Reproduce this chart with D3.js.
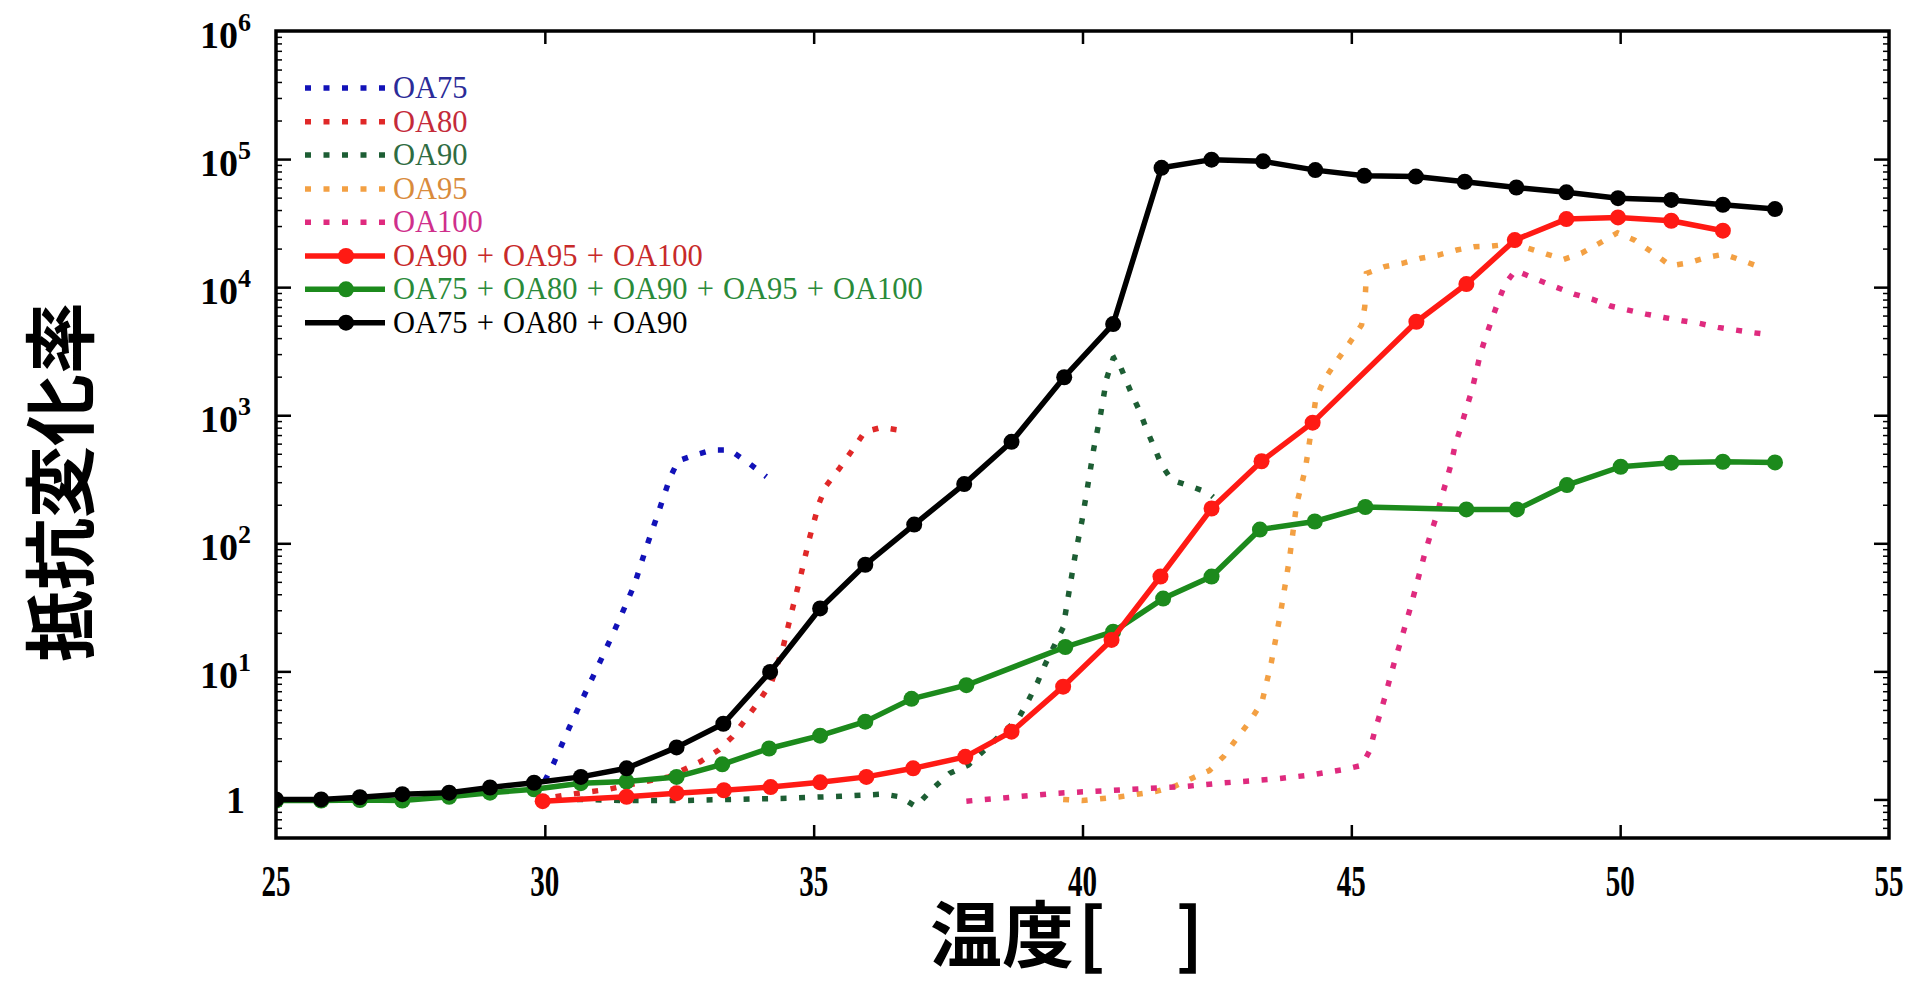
<!DOCTYPE html>
<html>
<head>
<meta charset="utf-8">
<script src="https://d3js.org/d3.v7.min.js"></script>
<style>
  body { margin: 0; background: #fff; }
  svg text { font-family: "Liberation Serif", "Times New Roman", serif; }
  .cjk { font-family: "Noto Sans CJK JP", sans-serif; font-weight: bold; }
</style>
</head>
<body>
<svg id="chart" width="1915" height="991"></svg>
<script>
// ---- data (temperature, resistance change ratio) ----
const xTicks = [25, 30, 35, 40, 45, 50, 55];
const yTicks = [1, 10, 100, 1000, 10000, 100000, 1000000];
const yTickLabels = ["1", "10|1", "10|2", "10|3", "10|4", "10|5", "10|6"];

const oa75X = [30.0, 30.16, 30.45, 30.76, 31.07, 31.38, 31.67, 31.88, 32.11, 32.33, 32.48, 32.79, 33.12, 33.44, 33.8, 34.12];
const oa75Y = [1.4, 1.9, 3.6, 6.9, 13, 25, 48, 91, 173, 327, 441, 489, 535, 535, 421, 331];

const oa80X = [30.2, 30.5, 31.18, 32.3, 32.89, 33.23, 33.49, 33.75, 33.99, 34.22, 34.43, 34.59, 34.76, 34.92, 35.10, 35.23, 35.48, 35.73, 35.95, 36.26, 36.59];
const oa80Y = [1.05, 1.1, 1.2, 1.5, 1.97, 2.43, 3.09, 4.3, 5.9, 8.3, 15.4, 29, 56, 109, 205, 280, 385, 542, 743, 803, 766];

const oa90X = [30.6, 31.5, 32.5, 33.5, 34.5, 35.5, 36.3, 36.6, 36.9, 37.2, 37.53, 37.88, 38.81, 39.0, 39.16, 39.3, 39.64, 39.75, 39.86, 39.99, 40.1, 40.21, 40.34, 40.45, 40.57, 40.63, 40.77, 40.91, 41.06, 41.19, 41.33, 41.47, 41.66, 42.0, 42.34, 42.43];
const oa90Y = [1.0, 0.98, 0.98, 1.0, 1.02, 1.06, 1.1, 1.05, 0.88, 1.2, 1.6, 1.86, 4.3, 6.0, 8.15, 11.2, 22, 42, 79, 150, 285, 551, 1035, 1940, 2780, 2860, 2060, 1480, 1084, 776, 567, 408, 312, 280, 248, 230];

const oa95X = [39.64, 40.0, 40.7, 41.35, 41.72, 42.03, 42.36, 42.63, 42.87, 43.13, 43.34, 43.51, 43.68, 43.85, 43.98, 44.14, 44.2, 44.34, 44.5, 44.73, 44.96, 45.19, 45.25, 45.28, 45.62, 45.95, 46.29, 46.62, 46.96, 47.28, 47.61, 47.95, 48.29, 48.63, 48.95, 49.28, 49.61, 49.95, 50.27, 50.62, 50.94, 51.28, 51.62, 51.93, 52.28, 52.61];
const oa95Y = [1.0, 0.98, 1.05, 1.15, 1.27, 1.46, 1.68, 2.18, 3.0, 4.17, 5.8, 11.6, 28, 76, 199, 373, 535, 1355, 1905, 2660, 3640, 5060, 7030, 12800, 14460, 15350, 16800, 17800, 19500, 20660, 20930, 21700, 20100, 18100, 16500, 18400, 22000, 26600, 23300, 18400, 14700, 15500, 17100, 18100, 16100, 14300];

const oa100X = [37.84, 39.55, 41.88, 42.56, 43.55, 44.23, 44.88, 45.2, 45.34, 45.43, 45.53, 45.63, 45.72, 45.81, 45.91, 46.01, 46.1, 46.19, 46.28, 46.37, 46.47, 46.58, 46.67, 46.76, 46.86, 46.93, 47.04, 47.14, 47.24, 47.32, 47.39, 47.49, 47.61, 47.73, 47.86, 48.05, 48.45, 48.79, 49.14, 49.49, 49.82, 50.15, 50.48, 50.81, 51.15, 51.48, 51.82, 52.15, 52.49, 52.82];
const oa100Y = [0.97, 1.12, 1.26, 1.34, 1.44, 1.55, 1.72, 1.85, 2.4, 3.35, 4.6, 6.4, 8.9, 12.2, 16.7, 23.4, 31.6, 43.7, 61, 84, 116, 161, 222, 300, 421, 585, 813, 1132, 1553, 2147, 2900, 3985, 5535, 7690, 10570, 13500, 11500, 10080, 8830, 8030, 7120, 6620, 6160, 5800, 5470, 5210, 4850, 4620, 4400, 4230];

const redX = [29.96, 31.52, 32.45, 33.33, 34.2, 35.12, 35.98, 36.85, 37.82, 38.68, 39.64, 40.54, 41.45, 42.4, 43.33, 44.28, 46.21, 47.14, 48.04, 49.0, 49.96, 50.95, 51.91];
const redY = [0.97, 1.05, 1.12, 1.18, 1.25, 1.36, 1.5, 1.75, 2.15, 3.38, 7.6, 17.6, 55, 187, 437, 875, 5370, 10570, 23300, 34000, 35000, 33000, 27600];

const greenX = [25.0, 25.84, 26.56, 27.35, 28.22, 28.98, 29.8, 30.67, 31.52, 32.45, 33.3, 34.17, 35.12, 35.96, 36.82, 37.84, 39.68, 40.57, 41.5, 42.4, 43.3, 44.32, 45.26, 47.14, 48.08, 49.01, 50.01, 50.95, 51.91, 52.88];
const greenY = [0.98, 0.98, 0.99, 0.98, 1.05, 1.13, 1.2, 1.34, 1.38, 1.5, 1.88, 2.5, 3.15, 4.05, 6.1, 7.8, 15.5, 20.4, 37, 55, 128, 148, 192, 184, 184, 285, 396, 426, 433, 428];

const blackX = [25.0, 25.84, 26.56, 27.35, 28.22, 28.98, 29.8, 30.67, 31.52, 32.45, 33.32, 34.19, 35.12, 35.96, 36.87, 37.8, 38.68, 39.66, 40.57, 41.47, 42.4, 43.36, 44.33, 45.24, 46.2, 47.11, 48.07, 49.0, 49.96, 50.95, 51.91, 52.88];
const blackY = [1.0, 1.0, 1.04, 1.1, 1.13, 1.24, 1.35, 1.5, 1.75, 2.55, 3.9, 9.9, 31, 68, 140, 290, 620, 1980, 5150, 85500, 99000, 96000, 82000, 74000, 73000, 66500, 60000, 55000, 49500, 48000, 44000, 40700];

const seriesNames = ["OA75", "OA80", "OA90", "OA95", "OA100",
  "OA90 + OA95 + OA100", "OA75 + OA80 + OA90 + OA95 + OA100", "OA75 + OA80 + OA90"];

// ---- layout ----
const plotL = 276, plotR = 1889, plotT = 31, plotB = 838;

const svg = d3.select("#chart");
const x = d3.scaleLinear().domain([25, 55]).range([plotL, plotR]);
const y = d3.scaleLog().domain([0.5, 1e6]).range([plotB, plotT]);

const series = [
  { name: seriesNames[0], xs: oa75X, ys: oa75Y, color: "#1212b8", text: "#2b2b98", dotted: true },
  { name: seriesNames[1], xs: oa80X, ys: oa80Y, color: "#e02828", text: "#c42a3a", dotted: true },
  { name: seriesNames[2], xs: oa90X, ys: oa90Y, color: "#1d5e34", text: "#2f6c42", dotted: true },
  { name: seriesNames[3], xs: oa95X, ys: oa95Y, color: "#f3a043", text: "#d98b3c", dotted: true },
  { name: seriesNames[4], xs: oa100X, ys: oa100Y, color: "#df2a7e", text: "#cf2f8c", dotted: true },
  { name: seriesNames[5], xs: redX, ys: redY, color: "#ff1a14", text: "#c82a2a", dotted: false },
  { name: seriesNames[6], xs: greenX, ys: greenY, color: "#1c8a1c", text: "#2a8a3a", dotted: false },
  { name: seriesNames[7], xs: blackX, ys: blackY, color: "#000000", text: "#000000", dotted: false }
];

svg.append("defs").append("clipPath").attr("id", "plotclip")
  .append("rect").attr("x", plotL).attr("y", plotT).attr("width", plotR - plotL).attr("height", plotB - plotT);

// ---- ticks (inward), drawn with d3 axes ----
const minor = [];
for (let e = -1; e <= 5; e++) for (let k = 2; k <= 9; k++) {
  const v = k * Math.pow(10, e);
  if (v > 0.5 && v < 1e6) minor.push(v);
}
function tidy(g) { g.select(".domain").remove(); g.selectAll("line").attr("stroke", "#000"); }

svg.append("g").attr("transform", `translate(0,${plotB})`)
  .call(d3.axisBottom(x).tickValues(xTicks.slice(1, -1)).tickSize(-13).tickFormat(""))
  .call(tidy).selectAll("line").attr("stroke-width", 2.5);
svg.append("g").attr("transform", `translate(0,${plotT})`)
  .call(d3.axisTop(x).tickValues(xTicks.slice(1, -1)).tickSize(-13).tickFormat(""))
  .call(tidy).selectAll("line").attr("stroke-width", 2.5);
svg.append("g").attr("transform", `translate(${plotL},0)`)
  .call(d3.axisLeft(y).tickValues(yTicks.slice(0, -1)).tickSize(-15).tickFormat(""))
  .call(tidy).selectAll("line").attr("stroke-width", 2.5);
svg.append("g").attr("transform", `translate(${plotR},0)`)
  .call(d3.axisRight(y).tickValues(yTicks.slice(0, -1)).tickSize(-15).tickFormat(""))
  .call(tidy).selectAll("line").attr("stroke-width", 2.5);
svg.append("g").attr("transform", `translate(${plotL},0)`)
  .call(d3.axisLeft(y).tickValues(minor).tickSize(-6).tickFormat(""))
  .call(tidy).selectAll("line").attr("stroke-width", 1.5);
svg.append("g").attr("transform", `translate(${plotR},0)`)
  .call(d3.axisRight(y).tickValues(minor).tickSize(-6).tickFormat(""))
  .call(tidy).selectAll("line").attr("stroke-width", 1.5);

// ---- data ----
const plot = svg.append("g").attr("clip-path", "url(#plotclip)");
const line = d3.line().x(d => x(d[0])).y(d => y(d[1]));

series.filter(s => s.dotted).forEach(s => {
  const pts = s.xs.map((v, i) => [v, s.ys[i]]);
  plot.append("path").datum(pts).attr("d", line)
    .attr("fill", "none").attr("stroke", s.color).attr("stroke-width", 5.5)
    .attr("stroke-dasharray", "6 12.5");
});

[series[6], series[5], series[7]].forEach(s => {
  const pts = s.xs.map((v, i) => [v, s.ys[i]]);
  plot.append("path").datum(pts).attr("d", line)
    .attr("fill", "none").attr("stroke", s.color).attr("stroke-width", 5.5)
    .attr("stroke-linejoin", "round");
  plot.selectAll(null).data(pts).join("circle")
    .attr("cx", d => x(d[0])).attr("cy", d => y(d[1])).attr("r", 8)
    .attr("fill", s.color);
});

// ---- frame ----
svg.append("rect").attr("x", plotL).attr("y", plotT).attr("width", plotR - plotL).attr("height", plotB - plotT)
  .attr("fill", "none").attr("stroke", "#000").attr("stroke-width", 3.5);

// ---- tick labels ----
svg.selectAll(".xl").data(xTicks).join("text")
  .attr("class", "xl")
  .attr("transform", d => `translate(${x(d)},896) scale(0.66,1)`)
  .attr("text-anchor", "middle").attr("font-size", 44).attr("font-weight", "bold")
  .text(d => d);

const yl = svg.selectAll(".yl").data(yTicks).join("text")
  .attr("class", "yl")
  .attr("x", 251).attr("y", d => y(d) + 17)
  .attr("text-anchor", "end").attr("font-size", 38).attr("font-weight", "bold");
yl.each(function (d, i) {
  const parts = yTickLabels[i].split("|");
  const t = d3.select(this);
  if (parts.length === 1) { t.attr("x", 245).attr("y", y(d) + 14).text(parts[0]); return; }
  t.append("tspan").text(parts[0]);
  t.append("tspan").attr("font-size", 26).attr("dy", -17).text(parts[1]);
});

// ---- legend ----
const lg = svg.append("g");
const rowY = [88, 121.7, 155, 189, 222.3, 256, 289.3, 322.7];
series.forEach((s, i) => {
  const cy = rowY[i];
  if (s.dotted) {
    lg.append("line").attr("x1", 305).attr("x2", 385).attr("y1", cy).attr("y2", cy)
      .attr("stroke", s.color).attr("stroke-width", 5.5).attr("stroke-dasharray", "6 12.5");
  } else {
    lg.append("line").attr("x1", 305).attr("x2", 385).attr("y1", cy).attr("y2", cy)
      .attr("stroke", s.color).attr("stroke-width", 5.5);
    lg.append("circle").attr("cx", 346).attr("cy", cy).attr("r", 8).attr("fill", s.color);
  }
  lg.append("text").attr("x", 393).attr("y", cy + 10).attr("font-size", 30.5)
    .attr("word-spacing", 1.5)
    .attr("fill", s.text).text(s.name);
});

// ---- axis titles ----
const xt = svg.append("text").attr("class", "cjk").attr("y", 961).attr("font-size", 72);
xt.append("tspan").attr("x", 930).text("温度");
xt.append("tspan").attr("x", 1078).text("[");
xt.append("tspan").attr("x", 1176).text("]");

svg.append("text").attr("class", "cjk")
  .attr("transform", "translate(87,482) rotate(-90)")
  .attr("text-anchor", "middle").attr("font-size", 72)
  .text("抵抗変化率");
</script>
</body>
</html>
